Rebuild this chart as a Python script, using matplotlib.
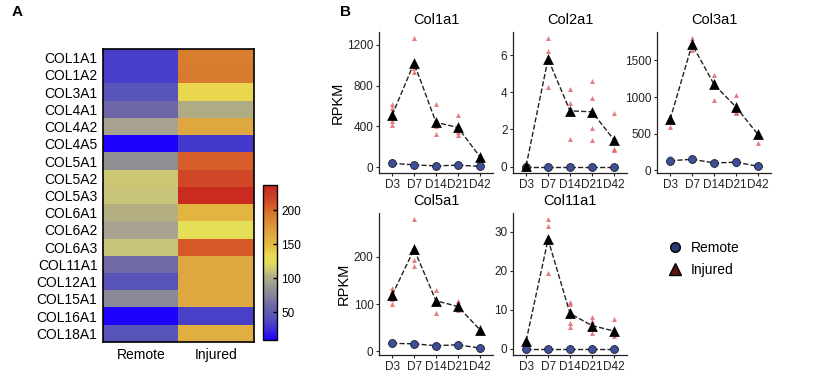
import matplotlib.pyplot as plt
from matplotlib.colors import LinearSegmentedColormap
from matplotlib.lines import Line2D

plt.rcParams['font.family'] = ['Liberation Sans', 'DejaVu Sans']

# heatmap data
genes = ['COL1A1', 'COL1A2', 'COL3A1', 'COL4A1', 'COL4A2', 'COL4A5', 'COL5A1',
         'COL5A2', 'COL5A3', 'COL6A1', 'COL6A2', 'COL6A3', 'COL11A1', 'COL12A1',
         'COL15A1', 'COL16A1', 'COL18A1']
conditions = ['Remote', 'Injured']
remote_vals = [32, 32, 45, 60, 95, 10, 82, 112, 110, 103, 95, 110, 62, 45, 77, 10, 45]
injured_vals = [190, 192, 135, 100, 165, 30, 205, 215, 232, 152, 125, 207, 165, 165, 165, 33, 158]

# time course data
days = ['D3', 'D7', 'D14', 'D21', 'D42']
col1a1_inj_mean = [510, 1020, 440, 390, 105]
col1a1_inj_pts = [[620, 580, 450, 410], [1260, 970, 930], [620, 410, 400, 330], [510, 350, 320], [110, 100, 90]]
col1a1_rem_mean = [40, 25, 15, 22, 10]
col1a1_rem_pts = [[45, 35], [28, 22], [18, 12], [25, 18], [12, 8]]

col2a1_inj_mean = [0.05, 5.8, 3.0, 2.95, 1.45]
col2a1_inj_pts = [[0.08, 0.03], [6.9, 6.2, 4.3], [4.2, 3.4, 3.0, 1.5], [4.6, 3.7, 2.1, 1.45], [2.9, 0.95, 0.9]]
col2a1_rem_mean = [0, 0, 0, 0, 0]
col2a1_rem_pts = [[0], [0], [0], [0], [0]]

col3a1_inj_mean = [695, 1718, 1173, 864, 491]
col3a1_inj_pts = [[740, 720, 590], [1800, 1750, 1640], [1300, 1220, 960], [1030, 790, 780], [520, 370]]
col3a1_rem_mean = [130, 150, 100, 110, 55]
col3a1_rem_pts = [[165, 110], [165, 140], [105, 95], [135, 90], [65, 50]]

col5a1_inj_mean = [119, 216, 107, 95, 46]
col5a1_inj_pts = [[135, 128, 110, 100], [279, 193, 180], [130, 81], [107, 90, 88], [45, 42]]
col5a1_rem_mean = [17, 16, 12, 14, 7]
col5a1_rem_pts = [[19, 15], [18, 14], [13, 11], [16, 12], [8, 6]]

col11a1_inj_mean = [2.0, 28.0, 9.0, 5.9, 4.5]
col11a1_inj_pts = [[1.8, 1.5], [33.1, 31.5, 19.4], [12.0, 11.5, 6.5, 5.5], [8.2, 7.0, 4.1], [7.5, 4.0, 3.2]]
col11a1_rem_mean = [0, 0, 0, 0, 0]
col11a1_rem_pts = [[0], [0], [0], [0], [0]]

W, H = 830, 378


def box(left, top, right, bottom):
    return [left / W, 1 - bottom / H, (right - left) / W, (bottom - top) / H]


fig = plt.figure(figsize=(W / 100, H / 100), dpi=100)

# ---- panel A: heatmap
vmin, vmax = 9, 237
stops = [(9, '#1e00ff'), (32, '#4a40c8'), (45, '#5a55b8'), (60, '#6e68a8'), (77, '#8a8a98'),
         (85, '#929290'), (95, '#a8a490'), (103, '#b4b080'), (110, '#c8c47a'), (125, '#e4e058'),
         (135, '#ecd850'), (150, '#e4b840'), (165, '#e0a840'), (190, '#d88030'), (205, '#d86028'),
         (215, '#d04828'), (237, '#c82420')]
cmap = LinearSegmentedColormap.from_list('bgyr', [((v - vmin) / (vmax - vmin), c) for v, c in stops])

axh = fig.add_axes(box(103, 49, 254, 342))
data = [[r, i] for r, i in zip(remote_vals, injured_vals)]
im = axh.imshow(data, cmap=cmap, vmin=vmin, vmax=vmax, aspect='auto', interpolation='nearest')
axh.set_yticks(range(len(genes)))
axh.set_yticklabels(genes, fontsize=10)
axh.set_xticks(range(len(conditions)))
axh.set_xticklabels(conditions, fontsize=10)
axh.tick_params(length=0, pad=4)
for s in axh.spines.values():
    s.set_linewidth(1.2)

cax = fig.add_axes(box(263, 185, 277, 340))
cb = fig.colorbar(im, cax=cax, ticks=[50, 100, 150, 200])
cb.ax.tick_params(labelsize=8.5, direction='in', length=3, width=1, pad=3)
cb.outline.set_linewidth(1)

fig.text(12 / W, 1 - 12 / H, 'A', fontsize=11, fontweight='bold', va='center')
fig.text(340 / W, 1 - 12 / H, 'B', fontsize=11, fontweight='bold', va='center')

# ---- panel B: time courses
panels = [
    ('Col1a1', col1a1_inj_mean, col1a1_inj_pts, col1a1_rem_mean, col1a1_rem_pts, [0, 400, 800, 1200], (379, 32, 493, 173), True),
    ('Col2a1', col2a1_inj_mean, col2a1_inj_pts, col2a1_rem_mean, col2a1_rem_pts, [0, 2, 4, 6], (513, 32, 627, 173), False),
    ('Col3a1', col3a1_inj_mean, col3a1_inj_pts, col3a1_rem_mean, col3a1_rem_pts, [0, 500, 1000, 1500], (657, 32, 771, 173), False),
    ('Col5a1', col5a1_inj_mean, col5a1_inj_pts, col5a1_rem_mean, col5a1_rem_pts, [0, 100, 200], (379, 213, 493, 355), True),
    ('Col11a1', col11a1_inj_mean, col11a1_inj_pts, col11a1_rem_mean, col11a1_rem_pts, [0, 10, 20, 30], (513, 213, 627, 355), False),
]

xs = list(range(len(days)))
for title, inj_m, inj_p, rem_m, rem_p, yt, pos, ylab in panels:
    ax = fig.add_axes(box(*pos))
    for i, pts in enumerate(rem_p):
        ax.scatter([i] * len(pts), pts, marker='o', s=18, color='#8fa0e0', alpha=0.6, lw=0, zorder=2)
    for i, pts in enumerate(inj_p):
        ax.scatter([i] * len(pts), pts, marker='^', s=13, color='#e06a6a', alpha=0.85, lw=0, zorder=2)
    ax.plot(xs, rem_m, ls='--', color='#222222', lw=1, zorder=3)
    ax.plot(xs, inj_m, ls='--', color='#222222', lw=1, zorder=3)
    ax.scatter(xs, rem_m, marker='o', s=32, color='#3d4f96', edgecolor='#1a1a2a', lw=0.6, zorder=4)
    ax.scatter(xs, inj_m, marker='^', s=60, color='black', lw=0, zorder=5)
    ax.set_xlim(-0.6, len(days) - 0.4)
    ax.margins(y=0.05)
    ax.set_xticks(xs)
    ax.set_xticklabels(days)
    ax.set_yticks(yt)
    ax.tick_params(labelsize=8.5, colors='#222222', length=2.5, width=0.8, pad=1.5)
    for s in ['top', 'right']:
        ax.spines[s].set_visible(False)
    for s in ['left', 'bottom']:
        ax.spines[s].set_linewidth(0.9)
        ax.spines[s].set_color('#222222')
    ax.set_title(title, fontsize=10.5, pad=6)
    if ylab:
        ax.set_ylabel('RPKM', fontsize=10.5, labelpad=2)

handles = [
    Line2D([], [], ls='none', marker='o', markersize=7, markerfacecolor='#2b3770', markeredgecolor='black'),
    Line2D([], [], ls='none', marker='^', markersize=9, markerfacecolor='#5a1414', markeredgecolor='black'),
]
fig.legend(handles, ['Remote', 'Injured'], loc='center left', bbox_to_anchor=(652 / W, 1 - 259 / H),
           frameon=False, fontsize=10, handletextpad=0.4, labelspacing=0.6, handlelength=1.5)

fig.savefig('out.png', dpi=100)
